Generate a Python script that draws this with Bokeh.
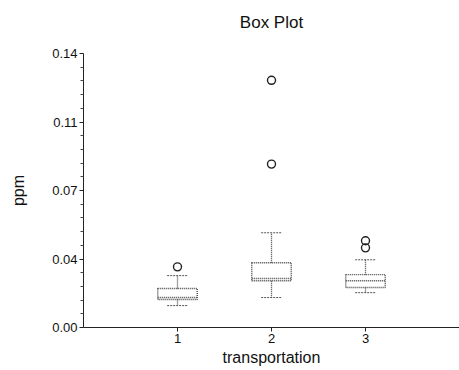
from bokeh.plotting import figure
from bokeh.models import FixedTicker, Range1d, Title
from bokeh.embed import file_html
from bokeh.resources import INLINE
import numpy as np

# ---- data ----
title_text = "Box Plot"
categories = [1, 2, 3]
q1 = [0.0143, 0.0239, 0.0204]
median = [0.0153, 0.0250, 0.0239]
q3 = [0.0199, 0.0331, 0.0270]
lower = [0.0112, 0.0153, 0.0178]
upper = [0.0265, 0.0484, 0.0346]
outlier_cat = [1, 2, 2, 3, 3]
outlier_val = [0.031, 0.0835, 0.1263, 0.0407, 0.0443]

y_ticks = [0.0, 0.035, 0.07, 0.105, 0.14]
y_tick_labels = ["0.00", "0.04", "0.07", "0.11", "0.14"]
x_ticks = [1, 2, 3]

FONT = "Liberation Sans"
BOX_W = 0.42
CAP_W = 0.22

p = figure(width=459, height=370, output_backend="svg", toolbar_location=None,
           x_range=Range1d(0, 4), y_range=Range1d(0, 0.14),
           min_border_left=83, min_border_right=0, min_border_top=52,
           min_border_bottom=43)

p.outline_line_color = None
p.grid.visible = False

# spacer next to the frame, then the title further out
spacer = Title(text=" ", text_font=FONT, text_font_size="9px", standoff=0)
p.add_layout(spacer, "above")
main_title = Title(text=title_text, align="center", text_font=FONT,
                   text_font_size="17px", text_font_style="normal",
                   text_color="#111111", standoff=20)
p.add_layout(main_title, "above")

cats = np.array(categories, dtype=float)
# boxes
p.quad(left=cats - BOX_W / 2, right=cats + BOX_W / 2, bottom=q1, top=q3,
       fill_color=None, line_color="#444444", line_dash="1 1", line_width=1.4)
# medians
p.segment(x0=cats - BOX_W / 2, x1=cats + BOX_W / 2, y0=median, y1=median,
          line_color="#444444", line_dash="1 1", line_width=1.4)
# whiskers
p.segment(x0=cats, x1=cats, y0=q3, y1=upper, line_color="#444444",
          line_dash="1 1", line_width=1.3)
p.segment(x0=cats, x1=cats, y0=q1, y1=lower, line_color="#444444",
          line_dash="1 1", line_width=1.3)
# caps
p.segment(x0=cats - CAP_W / 2, x1=cats + CAP_W / 2, y0=upper, y1=upper,
          line_color="#555555", line_dash="2 1", line_width=1)
p.segment(x0=cats - CAP_W / 2, x1=cats + CAP_W / 2, y0=lower, y1=lower,
          line_color="#555555", line_dash="2 1", line_width=1)
# outliers
p.scatter(x=outlier_cat, y=outlier_val, marker="circle", size=8,
          fill_color=None, line_color="#222222", line_width=1.4)

# axes
minor = []
for a, b in zip(y_ticks[:-1], y_ticks[1:]):
    minor += list(np.linspace(a, b, 6)[1:-1])
p.yaxis.ticker = FixedTicker(ticks=y_ticks, minor_ticks=minor)
p.yaxis.major_label_overrides = {t: l for t, l in zip(y_ticks, y_tick_labels)}
p.xaxis.ticker = FixedTicker(ticks=x_ticks)

for ax in (p.xaxis[0], p.yaxis[0]):
    ax.axis_line_color = "#222222"
    ax.major_tick_line_color = "#222222"
    ax.major_tick_out = 4
    ax.major_tick_in = 0
    ax.minor_tick_out = 3
    ax.minor_tick_in = 0
    ax.major_label_text_font = FONT
    ax.major_label_text_font_size = "13px"
    ax.major_label_text_color = "#111111"
    ax.axis_label_text_font = FONT
    ax.axis_label_text_font_size = "16px"
    ax.axis_label_text_font_style = "normal"
    ax.axis_label_text_color = "#111111"
    ax.major_label_standoff = 2

p.xaxis.minor_tick_line_color = None
p.yaxis.minor_tick_line_color = "#444444"
p.xaxis.axis_label = "transportation"
p.yaxis.axis_label = "ppm"
p.xaxis.axis_label_standoff = 3
p.yaxis.axis_label_standoff = 22

open("out.html", "w").write(file_html(p, INLINE))
